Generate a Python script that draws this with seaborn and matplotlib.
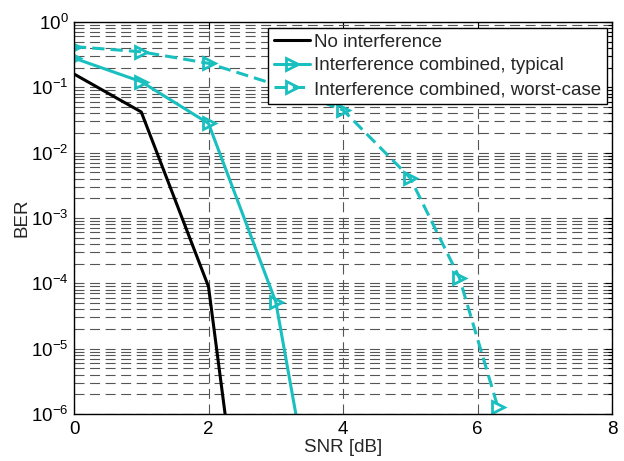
import numpy as np
import pandas as pd
import matplotlib
matplotlib.use("Agg")
import matplotlib.pyplot as plt
import seaborn as sns
from matplotlib.ticker import LogLocator, NullFormatter, FixedLocator

# ---- data ----
snr_none = [0, 1, 2, 2.5]
ber_none = [0.16, 0.042, 8.9e-5, 1e-8]

snr_typ = [0, 1, 2, 3, 3.5]
ber_typ = [0.28, 0.122, 0.028, 5.2e-5, 7e-8]

snr_worst = [0, 1, 2, 3, 4, 5, 5.73, 6.3]
ber_worst = [0.42, 0.35, 0.233, 0.11, 0.045, 0.0041, 1.22e-4, 1.3e-6]

labels = ["No interference", "Interference combined, typical",
          "Interference combined, worst-case"]
xticks = [0, 2, 4, 6, 8]
yexps = [-6, -5, -4, -3, -2, -1, 0]
ytick_labels = [r"$\mathregular{10^{%d}}$" % e for e in yexps]

sns.set_style("white")
plt.rcParams["font.family"] = ["Liberation Sans", "DejaVu Sans"]
plt.rcParams["mathtext.default"] = "regular"

FS = 13.5
cyan = "#1ABFBF"
fig = plt.figure(figsize=(6.24, 4.61), dpi=100)
ax = fig.add_axes([74/624, 47/461, (612-74)/624, (414-22)/461])

grid_kw = dict(color="#555555", linewidth=0.8, linestyle=(0, (9, 5)))

sns.lineplot(x=snr_none, y=ber_none, ax=ax, color="black", linewidth=2.2,
             sort=False, estimator=None, label=labels[0])
sns.lineplot(x=snr_typ, y=ber_typ, ax=ax, color=cyan, linewidth=2.2,
             marker=">", markersize=9, markerfacecolor="none",
             markeredgecolor=cyan, markeredgewidth=2.0,
             sort=False, estimator=None, label=labels[1])
sns.lineplot(x=snr_worst, y=ber_worst, ax=ax, color=cyan, linewidth=2.2,
             linestyle=(0, (4, 2)), marker=">", markersize=9,
             markerfacecolor="none", markeredgecolor=cyan, markeredgewidth=2.0,
             sort=False, estimator=None, label=labels[2])

ax.set_yscale("log")
ax.set_xlim(0, 8)
ax.set_ylim(1e-6, 1)
ax.xaxis.set_major_locator(FixedLocator(xticks))
ax.set_yticks([10.0**e for e in yexps])
ax.set_yticklabels(ytick_labels)
ax.yaxis.set_minor_locator(LogLocator(base=10, subs=np.arange(2, 10), numticks=20))
ax.yaxis.set_minor_formatter(NullFormatter())

ax.grid(True, which="major", axis="both", **grid_kw)
ax.grid(True, which="minor", axis="y", **grid_kw)
ax.set_axisbelow(True)

ax.tick_params(which="both", direction="in", top=True, right=True,
               labelsize=FS, colors="black", width=0.8)
ax.tick_params(which="major", length=5)
ax.tick_params(which="minor", length=3)
ax.tick_params(axis="x", pad=5)
ax.tick_params(axis="y", pad=4)
for s in ax.spines.values():
    s.set_color("black")
    s.set_linewidth(1.0)

ax.set_xlabel("SNR [dB]", fontsize=FS, labelpad=1)
ax.set_ylabel("BER", fontsize=FS, labelpad=0)

leg = ax.legend(loc="upper right", bbox_to_anchor=(0.991, 0.985), fontsize=FS,
                frameon=True, fancybox=False, framealpha=1, edgecolor="black",
                handlelength=1.9, handletextpad=0.25, borderpad=0.3,
                labelspacing=0.35, borderaxespad=0.0)
leg.get_frame().set_linewidth(1.0)

fig.savefig("out.png", dpi=100)
